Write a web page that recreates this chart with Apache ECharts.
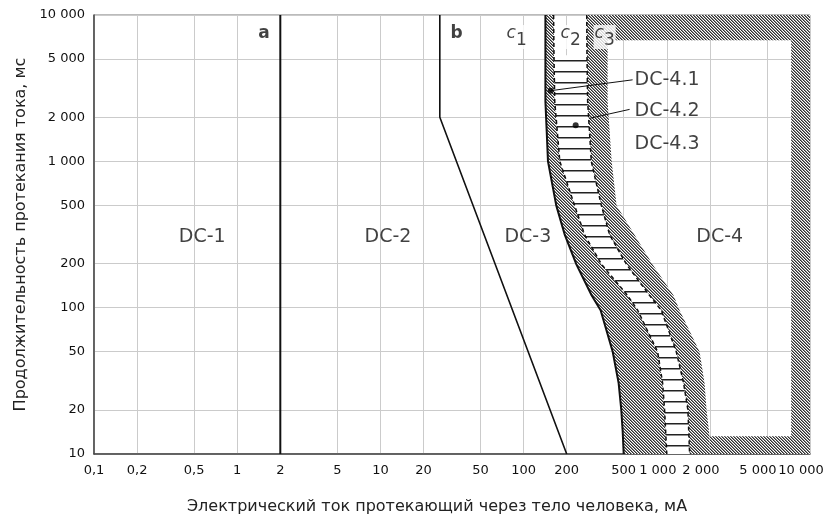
<!DOCTYPE html>
<html>
<head>
<meta charset="utf-8">
<script src="https://cdn.jsdelivr.net/npm/echarts@6/dist/echarts.min.js"></script>
<style>
  html, body { margin: 0; padding: 0; background: #fff; }
  #chart { width: 828px; height: 520px; }
</style>
</head>
<body>
<div id="chart"></div>
<script>
// деления осей
const xTicks = [0.1, 0.2, 0.5, 1, 2, 5, 10, 20, 50, 100, 200, 500, 1000, 2000, 5000, 10000];
const xTickLabels = ['0,1', '0,2', '0,5', '1', '2', '5', '10', '20', '50', '100', '200', '500', '1 000', '2 000', '5 000', '10 000'];
const yTicks = [10, 20, 50, 100, 200, 500, 1000, 2000, 5000, 10000];
const yTickLabels = ['10', '20', '50', '100', '200', '500', '1 000', '2 000', '5 000', '10 000'];

// кривые: [ток, мА ; время, мс]
const curveA = [[2, 10], [2, 10000]];
const curveB = [[26, 10000], [26, 2000], [200, 10]];
const curveC1 = [[142, 10000], [142, 2564], [145, 1603], [148, 1000], [169, 500], [194, 314], [234, 197],
  [299, 121], [345, 96], [419, 50], [461, 30.5], [481, 20], [492, 14.2], [500, 10]];
const ladderLeft = [[162, 10000], [163, 5300], [165, 2564], [179, 1000], [227, 500], [267, 314], [351, 197],
  [533, 121], [626, 96], [863, 50], [935, 30.5], [965, 20], [1000, 10]];
const ladderRight = [[276, 10000], [277, 5300], [280, 2564], [297, 1000], [349, 500], [399, 314], [524, 197],
  [759, 121], [915, 96], [1165, 50], [1310, 30.5], [1404, 20], [1443, 10]];
const outerEdge = [[386, 10000], [386, 6730], [386, 2564], [412, 1000], [446, 500], [596, 314], [796, 197],
  [1115, 121], [1228, 96], [1694, 50], [1835, 30.5], [1895, 20], [1989, 13.2], [2000, 10]];

// штриховая рамка зоны DC-4
const frameTop = [[386, 6730], [10000, 6730], [10000, 10000], [386, 10000]];
const frameRight = [[7390, 10], [10000, 10], [10000, 10000], [7390, 10000]];
const frameBottom = [[2000, 10], [10000, 10], [10000, 13.2], [2000, 13.2]];

// подписи зон
const zoneNames = ['DC-1', 'DC-2', 'DC-3', 'DC-4'];
const zonePos = [[0.57, 304], [11.3, 304], [107, 304], [2340, 304]];
const subZoneNames = ['DC-4.1', 'DC-4.2', 'DC-4.3'];
const subZonePos = [[596, 3606], [596, 2193], [596, 1313]];
const curveNames = ['a', 'b'];
const curveNamePos = [[1.54, 7430], [34, 7430]];
const cNames = ['1', '2', '3'];
const cNamePos = [[89.5, 7070], [213, 7070], [368, 7070]];
const dots = [[154.5, 3040], [231, 1765]];
const leader41 = [[154.5, 3040], [577, 3606]];
const leader42 = [[289, 1968], [550, 2265]];

const FONT = 'DejaVu Sans';

// косая штриховка "\" с шагом 3 px
function hatch() {
  const c = document.createElement('canvas');
  c.width = 3; c.height = 3;
  const g = c.getContext('2d');
  g.fillStyle = '#fff';
  g.fillRect(0, 0, 3, 3);
  for (let y = 0; y < 3; y++) {
    g.fillStyle = '#2e2e2e';
    g.fillRect(y, y, 1, 1);
    g.fillStyle = '#8a8a8a';
    g.fillRect((y + 1) % 3, y, 1, 1);
  }
  return { image: c, repeat: 'repeat' };
}

function stripes() {
  const c = document.createElement('canvas');
  c.width = 10; c.height = 11;
  const g = c.getContext('2d');
  g.fillStyle = '#fff';
  g.fillRect(0, 0, 10, 11);
  g.fillStyle = '#222';
  g.fillRect(0, 5, 10, 1.5);
  return { image: c, repeat: 'repeat' };
}

const hatchFill = hatch();
const stripeFill = stripes();

function area(points, fill) {
  return {
    type: 'custom',
    coordinateSystem: 'cartesian2d',
    xAxisIndex: 0,
    yAxisIndex: 0,
    silent: true,
    clip: true,
    data: points,
    encode: { x: 0, y: 1 },
    renderItem: (params, api) => {
      if (params.dataIndex !== 0) return;
      return {
        type: 'polygon',
        shape: { points: points.map(p => api.coord(p)) },
        style: { fill: fill, stroke: null }
      };
    }
  };
}

function line(points, width, type) {
  return {
    type: 'line',
    xAxisIndex: 0,
    yAxisIndex: 0,
    data: points,
    symbol: 'none',
    silent: true,
    z: 5,
    lineStyle: { color: '#111', width: width, type: type || 'solid' }
  };
}

function labels(pos, names, label) {
  return {
    type: 'scatter',
    xAxisIndex: 0,
    yAxisIndex: 0,
    symbolSize: 0,
    silent: true,
    z: 10,
    data: pos.map((p, i) => ({ value: p, name: names[i] })),
    label: Object.assign({ show: true, formatter: p => p.name }, label)
  };
}

const xTickLogs = xTicks.map(Math.log10);
const yTickLogs = yTicks.map(Math.log10);

const tickText = { fontFamily: FONT, fontSize: 13, color: '#111' };

const option = {
  animation: false,
  backgroundColor: '#fff',
  grid: {
    left: 94, right: 18, top: 15, bottom: 66,
    show: true, borderColor: '#777', borderWidth: 1
  },
  xAxis: [
    {
      type: 'log', logBase: 10, min: 0.1, max: 10000, position: 'bottom',
      axisLine: { show: false }, axisTick: { show: false },
      axisLabel: { show: false }, splitLine: { show: false }
    },
    {
      type: 'value', min: -1, max: 4, position: 'bottom',
      name: 'Электрический ток протекающий через тело человека, мА',
      nameLocation: 'middle', nameGap: 45,
      nameTextStyle: { fontFamily: FONT, fontSize: 16, color: '#222', padding: [0, 30, 0, 0] },
      axisLine: { show: true, lineStyle: { color: '#444', width: 1.5 } },
      axisTick: { show: false, customValues: xTickLogs },
      axisLabel: Object.assign({
        customValues: xTickLogs,
        margin: 10,
        formatter: v => {
          const s = xTickLabels[xTickLogs.findIndex(t => Math.abs(t - v) < 1e-9)];
          return s.indexOf(' ') > 0 ? '{k|' + s + '}' : s;
        },
        rich: { k: Object.assign({ padding: [0, 18, 0, 0] }, tickText) }
      }, tickText),
      splitLine: { show: true, lineStyle: { color: '#cbcbcb', width: 1 } }
    }
  ],
  yAxis: [
    {
      type: 'log', logBase: 10, min: 10, max: 10000, position: 'left',
      axisLine: { show: false }, axisTick: { show: false },
      axisLabel: { show: false }, splitLine: { show: false }
    },
    {
      type: 'value', min: 1, max: 4, position: 'left',
      name: 'Продолжительность протекания тока, мс',
      nameLocation: 'middle', nameGap: 63,
      nameTextStyle: { fontFamily: FONT, fontSize: 16, color: '#222' },
      axisLine: { show: true, lineStyle: { color: '#444', width: 1.5 } },
      axisTick: { show: false, customValues: yTickLogs },
      axisLabel: Object.assign({
        customValues: yTickLogs,
        margin: 9,
        formatter: v => yTickLabels[yTickLogs.findIndex(t => Math.abs(t - v) < 1e-9)]
      }, tickText),
      splitLine: { show: true, lineStyle: { color: '#cbcbcb', width: 1 } }
    }
  ],
  series: [
    area(curveC1.concat(ladderLeft.slice().reverse()), hatchFill),
    area(ladderLeft.slice(1).concat(ladderRight.slice(1).reverse()), stripeFill),
    area(ladderRight.concat(outerEdge.slice().reverse()), hatchFill),
    area(frameTop, hatchFill),
    area(frameRight, hatchFill),
    area(frameBottom, hatchFill),
    line(curveA, 2),
    line(curveB, 1.6),
    line(curveC1, 2),
    line(ladderLeft, 1.5, [4, 3]),
    line(ladderRight, 1.5, [4, 3]),
    line(leader41, 1),
    line(leader42, 1),
    {
      type: 'scatter', xAxisIndex: 0, yAxisIndex: 0, data: dots,
      symbolSize: 6, silent: true, z: 11, itemStyle: { color: '#000' }
    },
    labels(zonePos, zoneNames, { position: 'inside', fontFamily: FONT, fontSize: 19, color: '#111' }),
    labels(subZonePos, subZoneNames, {
      position: 'right', distance: 0, fontFamily: FONT, fontSize: 19, color: '#111'
    }),
    labels(curveNamePos, curveNames, {
      position: 'inside', fontFamily: FONT, fontSize: 17, fontWeight: 'bold', color: '#111'
    }),
    labels(cNamePos, cNames, {
      position: 'inside',
      formatter: p => '{c|c}{n|' + p.name + '}',
      backgroundColor: '#fff',
      padding: [0, 1],
      rich: {
        c: { fontFamily: FONT, fontSize: 17, fontStyle: 'italic', color: '#111', padding: [0, 0, 7, 0] },
        n: { fontFamily: FONT, fontSize: 17, color: '#111', padding: [7, 0, 0, 0] }
      }
    })
  ]
};

const chart = echarts.init(document.getElementById('chart'));
chart.setOption(option);
</script>
</body>
</html>
